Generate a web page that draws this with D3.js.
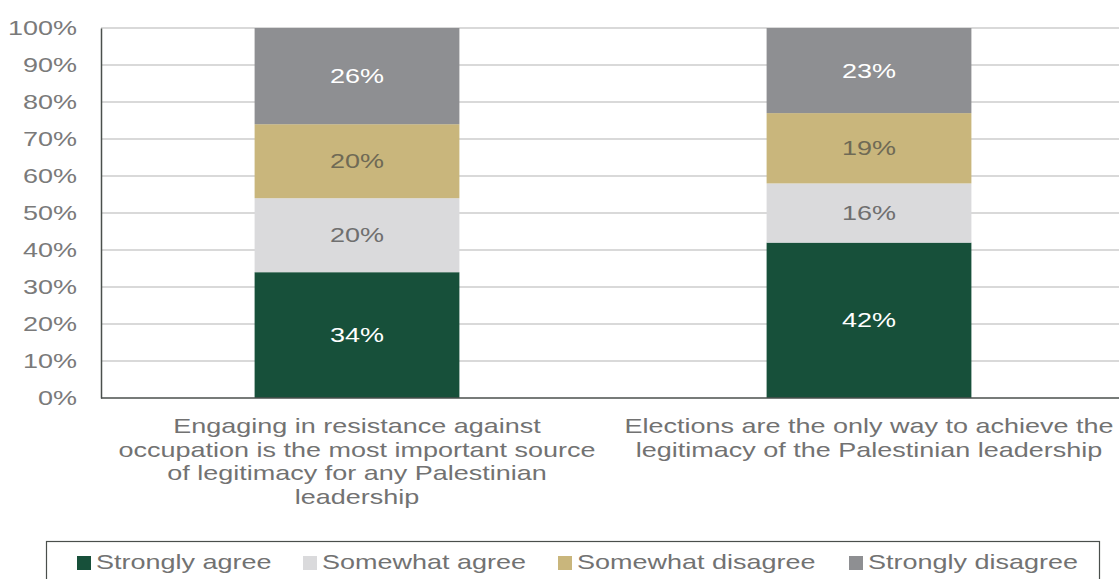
<!DOCTYPE html>
<html>
<head>
<meta charset="utf-8">
<script src="https://cdn.jsdelivr.net/npm/d3@7"></script>
<style>
  html, body { margin: 0; padding: 0; background: #ffffff; }
  svg { display: block; font-family: "Liberation Sans", Arial, sans-serif; }
</style>
</head>
<body>
<svg id="chart" width="1119" height="579"></svg>
<script>
// Survey statements (x categories), each split into four response shares
const categories = [
  ["Engaging in resistance against", "occupation is the most important source", "of legitimacy for any Palestinian", "leadership"],
  ["Elections are the only way to achieve the", "legitimacy of the Palestinian leadership"]
];
const seriesNames = ["Strongly agree", "Somewhat agree", "Somewhat disagree", "Strongly disagree"];
const stronglyAgree = [34, 42];
const somewhatAgree = [20, 16];
const somewhatDisagree = [20, 19];
const stronglyDisagree = [26, 23];
const yTicks = [0, 10, 20, 30, 40, 50, 60, 70, 80, 90, 100];

const colors = ["#17503a", "#dadadc", "#c9b67c", "#8e8f92"];
const labelColors = ["#ffffff", "#6f6f6f", "#6f6a55", "#ffffff"];

// Text in this layout is set wide: glyphs are stretched horizontally
const SX = 1.35;
const FONT = 20;

const svg = d3.select("#chart");
const margin = { left: 101, top: 28, bottom: 181 };
const plotRight = 1125;
const height = 579;

// Place a wide text element at (x, y)
function wideText(parent, x, y, str) {
  return parent.append("text")
    .attr("transform", `translate(${x},${y}) scale(${SX},1)`)
    .attr("font-size", FONT)
    .text(str);
}

const rows = categories.map((c, i) => ({
  idx: i,
  "Strongly agree": stronglyAgree[i],
  "Somewhat agree": somewhatAgree[i],
  "Somewhat disagree": somewhatDisagree[i],
  "Strongly disagree": stronglyDisagree[i]
}));

const x = d3.scaleBand()
  .domain(rows.map(r => r.idx))
  .range([margin.left, plotRight])
  .paddingInner(0.6)
  .paddingOuter(0.3);

const y = d3.scaleLinear()
  .domain([0, 100])
  .range([height - margin.bottom, margin.top]);

// Gridlines
svg.append("g")
  .selectAll("line")
  .data(yTicks.filter(t => t > 0))
  .join("line")
  .attr("x1", margin.left)
  .attr("x2", 1119)
  .attr("y1", d => y(d))
  .attr("y2", d => y(d))
  .attr("stroke", "#d9d9d9")
  .attr("stroke-width", 2);

// Stacked bars
const stacked = d3.stack().keys(seriesNames)(rows);

const layers = svg.append("g")
  .selectAll("g")
  .data(stacked)
  .join("g")
  .attr("fill", (d, i) => colors[i]);

layers.selectAll("rect")
  .data(d => d)
  .join("rect")
  .attr("x", d => x(d.data.idx))
  .attr("width", x.bandwidth())
  .attr("y", d => y(d[1]))
  .attr("height", d => y(d[0]) - y(d[1]));

// Segment value labels
const valG = svg.append("g").attr("text-anchor", "middle");
stacked.forEach((layer, i) => {
  layer.forEach(d => {
    wideText(valG,
      x(d.data.idx) + x.bandwidth() / 2,
      (y(d[0]) + y(d[1])) / 2,
      (d[1] - d[0]) + "%")
      .attr("dy", "0.35em")
      .attr("fill", labelColors[i]);
  });
});

// Y axis (line from d3 axis, labels set wide)
const yAxis = svg.append("g")
  .attr("transform", `translate(${margin.left},0)`)
  .call(d3.axisLeft(y).tickValues(yTicks).tickFormat(d => d + "%").tickSize(0).tickPadding(24));
yAxis.select(".domain").attr("stroke", "#4a4f4c").attr("stroke-width", 1.5);
yAxis.selectAll(".tick text")
  .attr("x", null)
  .attr("transform", `translate(-24,0) scale(${SX},1)`)
  .attr("font-size", FONT)
  .attr("fill", "#7a7a7a")
  .attr("font-family", "'Liberation Sans', Arial, sans-serif");

// X axis baseline
svg.append("line")
  .attr("x1", margin.left)
  .attr("x2", 1119)
  .attr("y1", y(0))
  .attr("y2", y(0))
  .attr("stroke", "#4a4f4c")
  .attr("stroke-width", 1.5);

// Category labels
const catG = svg.append("g").attr("text-anchor", "middle").attr("fill", "#727272");
categories.forEach((lines, i) => {
  lines.forEach((ln, j) => {
    wideText(catG, x(i) + x.bandwidth() / 2, 433 + j * 23.5, ln);
  });
});

// Legend
svg.append("rect")
  .attr("x", 46.5)
  .attr("y", 541.5)
  .attr("width", 1053)
  .attr("height", 60)
  .attr("fill", "#ffffff")
  .attr("stroke", "#4a4f4c")
  .attr("stroke-width", 1.2);

const legendX = [77, 303, 558, 849];
const legend = svg.append("g")
  .selectAll("g")
  .data(seriesNames)
  .join("g")
  .attr("transform", (d, i) => `translate(${legendX[i]},0)`);
legend.append("rect")
  .attr("x", 0)
  .attr("y", 556)
  .attr("width", 14)
  .attr("height", 14)
  .attr("fill", (d, i) => colors[i]);
legend.each(function(d) {
  wideText(d3.select(this), 19, 569, d).attr("fill", "#727272");
});
</script>
</body>
</html>
